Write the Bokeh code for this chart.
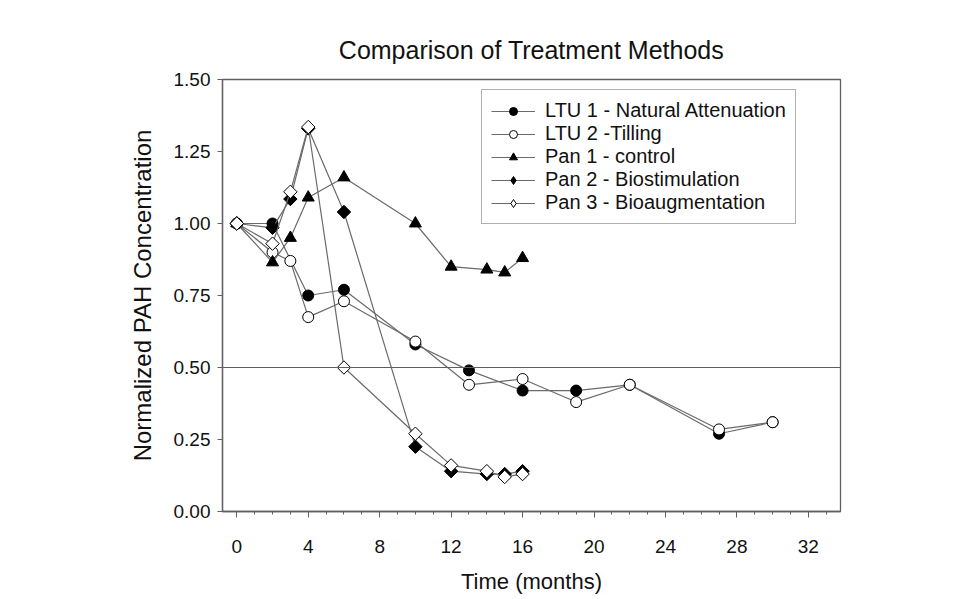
from bokeh.plotting import figure
from bokeh.models import Span, Legend, LegendItem, FixedTicker, Range1d, NumeralTickFormatter
from bokeh.embed import file_html
from bokeh.resources import INLINE
import math

# ---- data ----
ltu1_x = [0, 2, 4, 6, 10, 13, 16, 19, 22, 27, 30]
ltu1_y = [1.00, 1.00, 0.75, 0.77, 0.58, 0.49, 0.42, 0.42, 0.44, 0.27, 0.31]

ltu2_x = [0, 2, 3, 4, 6, 10, 13, 16, 19, 22, 27, 30]
ltu2_y = [1.00, 0.90, 0.87, 0.675, 0.73, 0.59, 0.44, 0.46, 0.38, 0.44, 0.285, 0.31]

pan1_x = [0, 2, 3, 4, 6, 10, 12, 14, 15, 16]
pan1_y = [1.00, 0.865, 0.95, 1.09, 1.16, 1.00, 0.85, 0.84, 0.83, 0.88]

pan2_x = [0, 2, 3, 4, 6, 10, 12, 14, 15, 16]
pan2_y = [1.00, 0.985, 1.085, 1.33, 1.04, 0.225, 0.14, 0.13, 0.13, 0.14]

pan3_x = [0, 2, 3, 4, 6, 10, 12, 14, 15, 16]
pan3_y = [1.00, 0.93, 1.11, 1.335, 0.50, 0.27, 0.16, 0.14, 0.12, 0.13]

series_names = ["LTU 1 - Natural Attenuation", "LTU 2 -Tilling", "Pan 1 - control",
                "Pan 2 - Biostimulation", "Pan 3 - Bioaugmentation"]
x_ticks = [0, 4, 8, 12, 16, 20, 24, 28, 32]
y_ticks = [0.0, 0.25, 0.5, 0.75, 1.0, 1.25, 1.5]
reference_level = 0.5

FONT = "Liberation Sans"
LINE = "#6a6a6a"
AX = "#606060"

p = figure(width=962, height=599, output_backend="svg", toolbar_location=None,
           x_range=Range1d(-0.8, 33.8), y_range=Range1d(0, 1.5),
           min_border_left=222, min_border_right=122, min_border_top=79, min_border_bottom=88,
           title="Comparison of Treatment Methods")

p.title.align = "center"
p.title.text_font = FONT
p.title.text_font_size = "25px"
p.title.text_font_style = "normal"
p.title.text_color = "#111111"
p.title.standoff = 32

p.grid.visible = False
p.outline_line_color = AX
p.outline_line_width = 1.3
p.background_fill_color = "white"
p.border_fill_color = "white"

# axes
p.xaxis.ticker = FixedTicker(ticks=x_ticks, minor_ticks=list(range(0, 34)))
p.yaxis.ticker = FixedTicker(ticks=y_ticks, minor_ticks=[])
p.yaxis.formatter = NumeralTickFormatter(format="0.00")
for ax in (p.xaxis, p.yaxis):
    ax.axis_line_color = AX
    ax.axis_line_width = 1.3
    ax.major_tick_line_color = AX
    ax.minor_tick_line_color = AX
    ax.major_tick_in = 0
    ax.minor_tick_in = 0
    ax.major_label_text_font = FONT
    ax.major_label_text_font_size = "19px"
    ax.major_label_text_color = "#111111"
    ax.axis_label_text_font = FONT
    ax.axis_label_text_font_style = "normal"
    ax.axis_label_text_color = "#111111"
p.xaxis.axis_label_text_font_size = "22px"
p.yaxis.axis_label_text_font_size = "24px"
p.xaxis.major_tick_out = 6
p.xaxis.minor_tick_out = 3
p.yaxis.major_tick_out = 5
p.yaxis.minor_tick_out = 0
p.xaxis.major_label_standoff = 22
p.yaxis.major_label_standoff = 7
p.xaxis.axis_label = "Time (months)"
p.yaxis.axis_label = "Normalized PAH Concentration"
p.xaxis.axis_label_standoff = 13
p.yaxis.axis_label_standoff = 15

p.add_layout(Span(location=reference_level, dimension="width", line_color=AX, line_width=1.2))

specs = [
    (ltu1_x, ltu1_y, "circle", "black", 11, 0, "circle"),
    (ltu2_x, ltu2_y, "circle", "white", 11, 0, "circle"),
    (pan1_x, pan1_y, "triangle", "black", 12, 0, "triangle"),
    (pan2_x, pan2_y, "square", "black", 9.5, math.pi / 4, "diamond"),
    (pan3_x, pan3_y, "square", "white", 9.5, math.pi / 4, "diamond"),
]
items = []
for (xs, ys, marker, fill, size, ang, lmarker), name in zip(specs, series_names):
    lr = p.line(xs, ys, line_color=LINE, line_width=1.2)
    sr = p.scatter(xs, ys, marker=marker, size=size, angle=ang, fill_color=fill,
                   line_color="black", line_width=1)
    if lmarker != marker:
        # legend swatch only (legend swatches cannot be rotated): hidden renderer
        gr = p.scatter(xs, ys, marker=lmarker, size=size, fill_color=fill,
                       line_color="black", line_width=1, visible=False)
        items.append(LegendItem(label=name, renderers=[lr, gr]))
    else:
        items.append(LegendItem(label=name, renderers=[lr, sr]))

legend = Legend(items=items, location=(259, 287), margin=0, padding=9, spacing=0,
                label_height=20, glyph_height=20, glyph_width=44, label_standoff=10,
                label_text_font=FONT, label_text_font_size="20px", label_text_color="#111111",
                border_line_color=AX, border_line_width=1.3, background_fill_alpha=1,
                inactive_fill_alpha=0)
p.add_layout(legend)

open("out.html", "w").write(file_html(p, INLINE))
